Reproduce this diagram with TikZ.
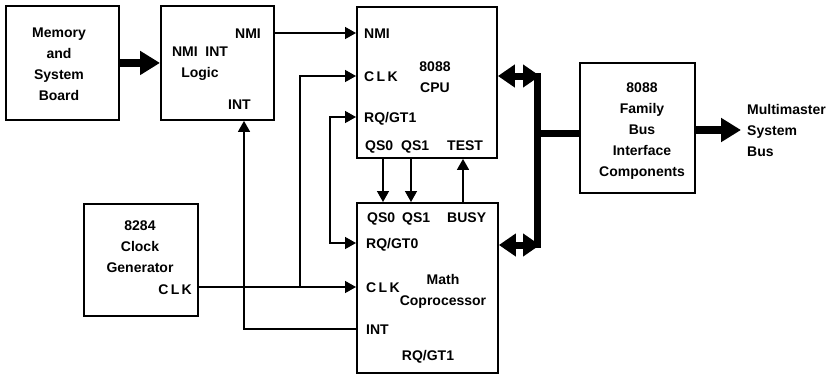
\documentclass[tikz,border=0pt]{standalone}
\usepackage{fontspec}
\setmainfont{Liberation Sans}
\usetikzlibrary{arrows.meta}
\begin{document}
\begin{tikzpicture}[x=1pt,y=-1pt,
  font=\bfseries\fontsize{14}{21}\selectfont,
  box/.style={draw, line width=1.9pt, inner sep=0pt, anchor=north west},
  lbl/.style={inner sep=0pt, text height=10pt, text depth=0pt},
  txt/.style={inner sep=0pt, align=center},
  sig/.style={line width=1.4pt},
  arr/.style={sig, -{Triangle[length=11pt,width=12pt]}},
  darr/.style={sig, {Triangle[length=11pt,width=12pt]}-{Triangle[length=11pt,width=12pt]}},
  fat/.style={line width=7pt},
  fatarr/.style={line width=7.5pt, -{Triangle[length=20pt,width=23pt]}},
  busarr/.style={line width=7pt, {Triangle[length=17pt,width=22pt]}-{Triangle[length=17pt,width=22pt]}}]
\useasboundingbox (0,0) rectangle (834,373);

% boxes
\node[box, minimum width=113pt, minimum height=114pt] (mem) at (5,5) {};
\node[box, minimum width=113pt, minimum height=114pt] (logic) at (160,5) {};
\node[box, minimum width=140pt, minimum height=151pt] (cpu) at (356,6) {};
\node[box, minimum width=114pt, minimum height=112pt] (gen) at (83,203) {};
\node[box, minimum width=141pt, minimum height=170pt] (cop) at (356,202) {};
\node[box, minimum width=115pt, minimum height=130pt] (bif) at (579,62) {};

% box texts
\node[txt] (memtxt) at (59,64) {Memory\\and\\System\\Board};
\node[txt] (logtxt) at (200,64) {NMI\ \ INT\\Logic};
\node[lbl, anchor=west] (lnmi) at (235,33) {NMI};
\node[lbl, anchor=west] (lint) at (228,104) {INT};

\node[lbl, anchor=west] (cnmi) at (364,33) {NMI};
\node[lbl, anchor=west] (cclk) at (364,76) {C\,L\,K};
\node[lbl, anchor=west] (crq) at (364,117) {RQ/GT1};
\node[lbl, anchor=west] (cqs0) at (365,145) {QS0};
\node[lbl, anchor=west] (cqs1) at (401,145) {QS1};
\node[lbl, anchor=west] (ctest) at (447,145) {TEST};
\node[txt] (cputxt) at (435,77) {8088\\CPU};

\node[txt] (gentxt) at (140,247) {8284\\Clock\\Generator};
\node[lbl, anchor=east] (gclk) at (192,289) {C\,L\,K};

\node[lbl, anchor=west] (pqs0) at (367,217) {QS0};
\node[lbl, anchor=west] (pqs1) at (402,217) {QS1};
\node[lbl, anchor=west] (pbusy) at (447,217) {BUSY};
\node[lbl, anchor=west] (prq0) at (366,243) {RQ/GT0};
\node[lbl, anchor=west] (pclk) at (366,287) {C\,L\,K};
\node[txt] (coptxt) at (443,291) {Math\\Coprocessor};
\node[lbl, anchor=west] (pint) at (366,329) {INT};
\node[lbl] (prq1) at (428,355) {RQ/GT1};

\node[txt] (biftxt) at (642,131) {8088\\Family\\Bus\\Interface\\Components};
\node[txt, align=left, anchor=west] (mm) at (747,130) {Multimaster\\System\\Bus};

% junction coordinates
\coordinate (j1) at (300,287);
\coordinate (rq) at (330,180);
\coordinate (ib) at (244,329);
\coordinate (q0) at (383,180);
\coordinate (q1) at (411,180);
\coordinate (tb) at (463,180);
\coordinate (b1) at (537,76);
\coordinate (b2) at (537,245);
\coordinate (b3) at (537,133);
\coordinate (mmtip) at (741,130);

% connectors
\draw[fatarr] (mem.east) -- (logic.west);
\draw[arr] (logic.east |- lnmi) -- (cpu.west |- lnmi);
\draw[arr] (gen.east |- j1) -- (cop.west |- j1);
\draw[arr] (j1) |- (cpu.west |- cclk);
\draw[darr] (cpu.west |- crq) -| (rq) |- (cop.west |- prq0);
\draw[arr] (cop.west |- ib) -- (ib) -- (ib |- logic.south);
\draw[arr] (q0 |- cpu.south) -- (q0 |- cop.north);
\draw[arr] (q1 |- cpu.south) -- (q1 |- cop.north);
\draw[arr] (tb |- cop.north) -- (tb |- cpu.south);

% bus
\draw[fat] ([yshift=3pt]b1) -- ([yshift=-3pt]b2);
\draw[busarr] (cpu.east |- b1) -- ([xshift=3pt]b1);
\draw[busarr] (cop.east |- b2) -- ([xshift=3pt]b2);
\draw[fat] (b3) -- (bif.west |- b3);
\draw[fatarr] (bif.east |- mmtip) -- (mmtip);
\end{tikzpicture}
\end{document}
